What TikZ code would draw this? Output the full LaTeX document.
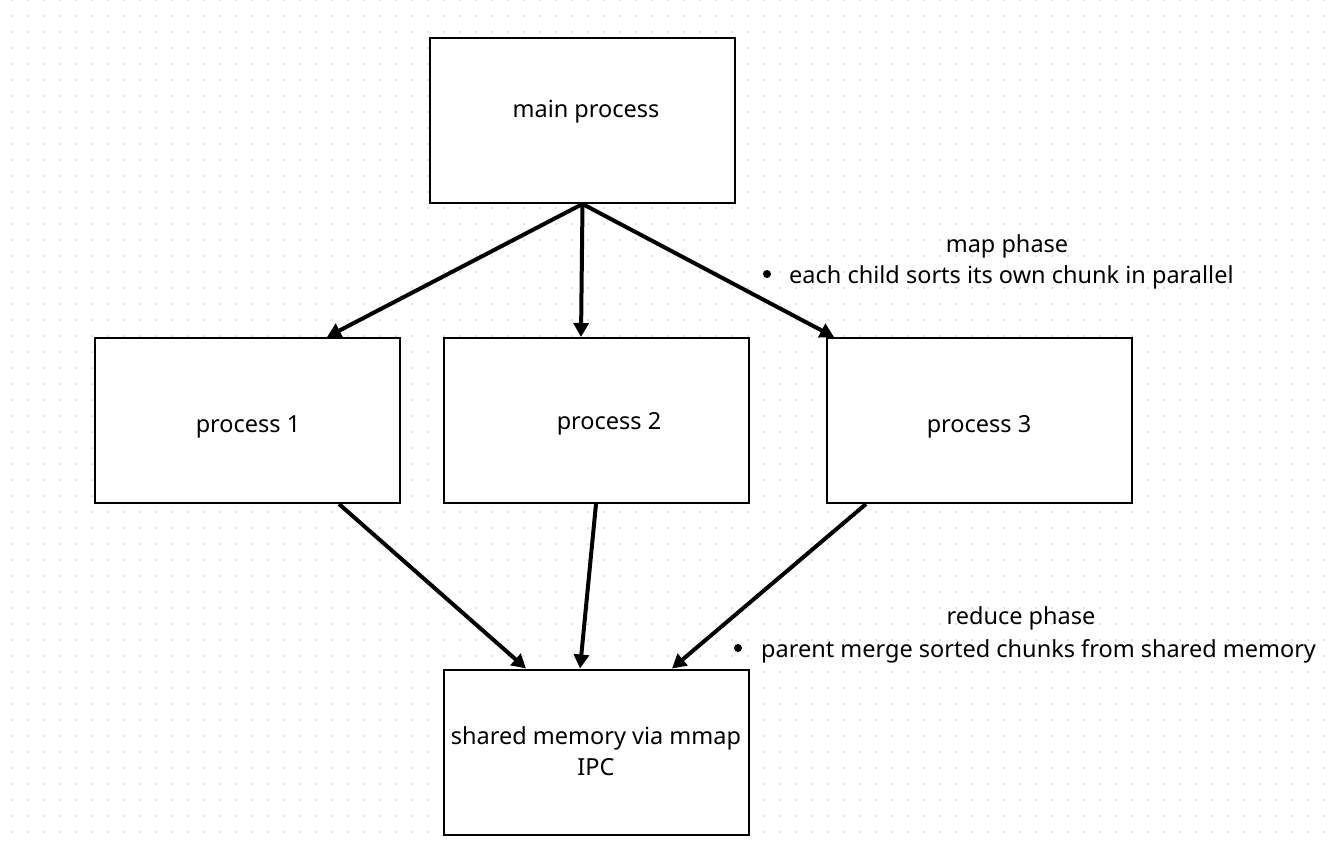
\documentclass[tikz,border=0pt]{standalone}
\usepackage{fontspec}
\setmainfont{Noto Sans}
\usetikzlibrary{arrows.meta}
\definecolor{dotgray}{RGB}{205,210,220}
\tikzset{
  box/.style={draw=black, line width=2pt, fill=white, minimum width=305pt, minimum height=165pt, inner sep=0pt, anchor=center},
  txt/.style={inner sep=0pt, font=\fontsize{23.5}{31}\selectfont, text=black},
  bul/.style={circle, fill=black, inner sep=0pt, minimum size=8pt},
  conn/.style={line width=4pt, -{Triangle[length=14pt,width=15pt]}},
}
\begin{document}
\begin{tikzpicture}[x=1pt,y=-1pt]
\useasboundingbox[fill=white] (0,0) rectangle (1338,846);
\foreach \i in {0,...,83}{
  \foreach \j in {0,...,52}{
    \fill[dotgray] (12+16*\i,16*\j) circle (1pt);
  }
}
% boxes
\node[box] (main) at (582.5,120.5) {};
\node[box] (p1) at (247.5,420.5) {};
\node[box] (p2) at (596.5,420.5) {};
\node[box] (p3) at (979.5,420.5) {};
\node[box] (shm) at (596.5,752) {};
% box texts
\node[txt] (tmain) at (586,112) {main process};
\node[txt] (tp1) at (248,427) {process 1};
\node[txt] (tp2) at (609,424) {process 2};
\node[txt] (tp3) at (979,427) {process 3};
\node[txt, align=center] (tshm) at (596,751) {shared memory via mmap\\IPC};
% annotations
\node[txt] (map) at (1007,246) {map phase};
\node[bul] (mapb) at (767,274) {};
\node[txt, anchor=west] (mapt) at (789,277) {each child sorts its own chunk in parallel};
\node[txt] (red) at (1021,618) {reduce phase};
\node[bul] (redb) at (738,648) {};
\node[txt, anchor=west] (redt) at (761,651) {parent merge sorted chunks from shared memory};
% connectors
\draw[conn] (main.south) -- ([xshift=233pt]p1.north west);
\draw[conn] (main.south) -- ([xshift=138pt]p2.north west);
\draw[conn] (main.south) -- ([xshift=8pt]p3.north west);
\draw[conn] ([xshift=245pt]p1.south west) -- ([xshift=83pt]shm.north west);
\draw[conn] ([xshift=153pt]p2.south west) -- ([xshift=137pt]shm.north west);
\draw[conn] ([xshift=40pt]p3.south west) -- ([xshift=229pt]shm.north west);
\end{tikzpicture}
\end{document}
